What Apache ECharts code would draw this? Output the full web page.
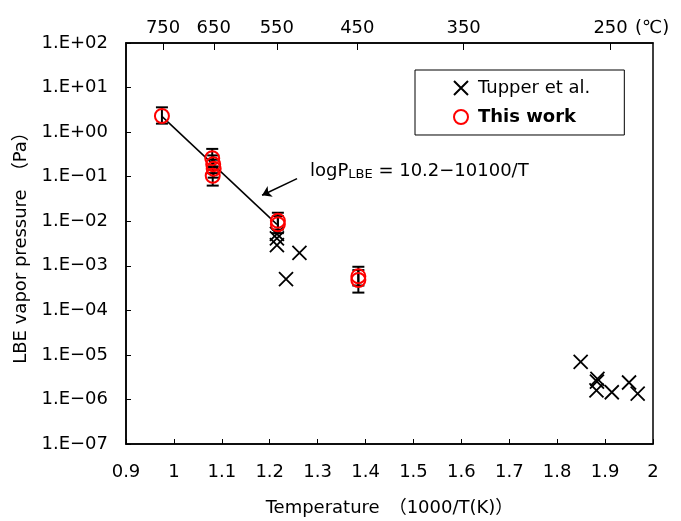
<!DOCTYPE html>
<html>
<head>
<meta charset="utf-8">
<script src="https://cdn.jsdelivr.net/npm/echarts@6/dist/echarts.min.js"></script>
<style>
  html, body { margin: 0; padding: 0; background: #fff; }
  #chart { width: 681px; height: 521px; }
</style>
</head>
<body>
<div id="chart"></div>
<script>
// Tupper et al. (1000/T, Pa)
const tupperX = [1.215, 1.215, 1.215, 1.262, 1.234, 1.849, 1.884, 1.883, 1.882, 1.914, 1.95, 1.968];
const tupperP = [0.0052, 0.0041, 0.0029, 0.00195, 0.0005, 7.0e-6, 2.9e-6, 2.5e-6, 1.6e-6, 1.45e-6, 2.4e-6, 1.35e-6];

// This work, with error bar limits
const thisX = [0.975, 1.080, 1.082, 1.083, 1.081, 1.217, 1.217, 1.385, 1.385];
const thisP = [2.3, 0.26, 0.19, 0.15, 0.105, 0.0102, 0.0085, 0.00058, 0.00048];
const thisLo = [1.55, 0.16, 0.12, 0.095, 0.063, 0.0065, 0.0054, 0.00036, 0.00025];
const thisHi = [3.6, 0.42, 0.30, 0.24, 0.17, 0.0155, 0.013, 0.00095, 0.0008];

// fit line logP = 10.2 - 10100/T, ends
const fitX = [0.975, 1.215];
const fitP = [2.25, 0.0085];

// arrow pointing at the fit line
const arrowFrom = [1.257, 0.0906];
const arrowTo = [1.184, 0.0383];

const celsiusTicks = [750, 650, 550, 450, 350, 250];
const topTickPos = celsiusTicks.map(c => 1000 / (c + 273.15));

const FONT = "'DejaVu Sans', 'Noto Sans CJK JP', sans-serif";
const FS = 18;

const chart = echarts.init(document.getElementById("chart"));

function expLabel(v) {
  const e = Math.round(Math.log10(v));
  const s = Math.abs(e) < 10 ? "0" + Math.abs(e) : "" + Math.abs(e);
  return "1.E" + (e < 0 ? "−" : "+") + s;
}

const option = {
  backgroundColor: "#fff",
  animation: false,
  textStyle: { fontFamily: FONT },
  grid: {
    left: 126, right: 28, top: 43, bottom: 77,
    show: true, borderColor: "#000", borderWidth: 1.5,
    outerBoundsMode: "none"
  },
  legend: {
    orient: "vertical",
    left: 415, top: 70,
    padding: [9, 34, 9, 38],
    itemGap: 11,
    itemWidth: 24, itemHeight: 14,
    backgroundColor: "#fff",
    borderColor: "#000", borderWidth: 1,
    textStyle: { fontSize: FS, color: "#000", fontFamily: FONT },
    data: [
      { name: "Tupper et al." },
      { name: "This work", textStyle: { fontWeight: "bold" } }
    ]
  },
  xAxis: [
    {
      type: "value", min: 0.9, max: 2, interval: 0.1,
      position: "bottom",
      name: "Temperature　（1000/T(K)）",
      nameLocation: "middle", nameGap: 55,
      nameTextStyle: { fontSize: FS, color: "#000" },
      axisLine: { show: true, lineStyle: { color: "#000", width: 1.5 } },
      axisTick: { show: true, inside: true, length: 5, lineStyle: { color: "#000" } },
      axisLabel: {
        fontSize: FS, color: "#000", margin: 19,
        formatter: v => (Math.round(v * 10) / 10).toString()
      },
      splitLine: { show: false }
    },
    {
      type: "value", min: 0.9, max: 2,
      position: "top",
      name: "(℃)",
      nameLocation: "end", nameGap: -18,
      nameTextStyle: { fontSize: FS, color: "#000", verticalAlign: "bottom", padding: [0, 0, 6, 0] },
      axisLine: { show: true, lineStyle: { color: "#000", width: 1.5 } },
      axisTick: { show: true, inside: true, length: 7, customValues: topTickPos, lineStyle: { color: "#000" } },
      axisLabel: {
        fontSize: FS, color: "#000", margin: 6,
        customValues: topTickPos,
        formatter: v => Math.round(1000 / v - 273.15).toString()
      },
      splitLine: { show: false }
    }
  ],
  yAxis: {
    type: "log", min: 1e-7, max: 100, logBase: 10,
    name: "LBE vapor pressure　（Pa）",
    nameLocation: "middle", nameGap: 96,
    nameTextStyle: { fontSize: FS, color: "#000" },
    axisLine: { show: true, lineStyle: { color: "#000", width: 1.5 } },
    axisTick: { show: true, inside: true, length: 5, lineStyle: { color: "#000" } },
    axisLabel: { fontSize: FS, color: "#000", margin: 18, formatter: expLabel },
    splitLine: { show: false }
  },
  graphic: [
    {
      type: "text",
      left: 310, top: 162,
      style: {
        text: "logP{s|LBE} = 10.2−10100/T",
        fontSize: FS, fontFamily: FONT, fill: "#000",
        rich: { s: { fontSize: 13, fontFamily: FONT, padding: [7, 0, 0, 0] } }
      }
    }
  ],
  series: [
    {
      name: "fit",
      type: "line",
      data: fitX.map((x, i) => [x, fitP[i]]),
      symbol: "none",
      lineStyle: { color: "#000", width: 1.5 },
      z: 2,
      markLine: {
        silent: true,
        symbol: ["none", "arrow"],
        symbolSize: 9,
        label: { show: false },
        lineStyle: { color: "#000", width: 1.5, type: "solid" },
        data: [[{ coord: arrowFrom }, { coord: arrowTo }]]
      }
    },
    {
      name: "Tupper et al.",
      type: "scatter",
      data: tupperX.map((x, i) => [x, tupperP[i]]),
      symbol: "path://M0,0L10,10M10,0L0,10",
      symbolSize: 14,
      itemStyle: { color: "transparent", borderColor: "#000", borderWidth: 1.8, opacity: 1 },
      z: 3
    },
    {
      name: "errbar",
      type: "custom",
      data: thisX.map((x, i) => [x, thisLo[i], thisHi[i]]),
      encode: { x: 0, y: [1, 2] },
      renderItem: (params, api) => {
        const top = api.coord([api.value(0), api.value(2)]);
        const bot = api.coord([api.value(0), api.value(1)]);
        const w = 6;
        const st = { stroke: "#000", lineWidth: 2 };
        return {
          type: "group",
          children: [
            { type: "line", shape: { x1: top[0], y1: top[1], x2: bot[0], y2: bot[1] }, style: st },
            { type: "line", shape: { x1: top[0] - w, y1: top[1], x2: top[0] + w, y2: top[1] }, style: st },
            { type: "line", shape: { x1: bot[0] - w, y1: bot[1], x2: bot[0] + w, y2: bot[1] }, style: st }
          ]
        };
      },
      z: 4
    },
    {
      name: "This work",
      type: "scatter",
      data: thisX.map((x, i) => [x, thisP[i]]),
      symbol: "circle",
      symbolSize: 14,
      itemStyle: { color: "transparent", borderColor: "#ff0000", borderWidth: 2, opacity: 1 },
      z: 5
    }
  ]
};

chart.setOption(option);
</script>
</body>
</html>
